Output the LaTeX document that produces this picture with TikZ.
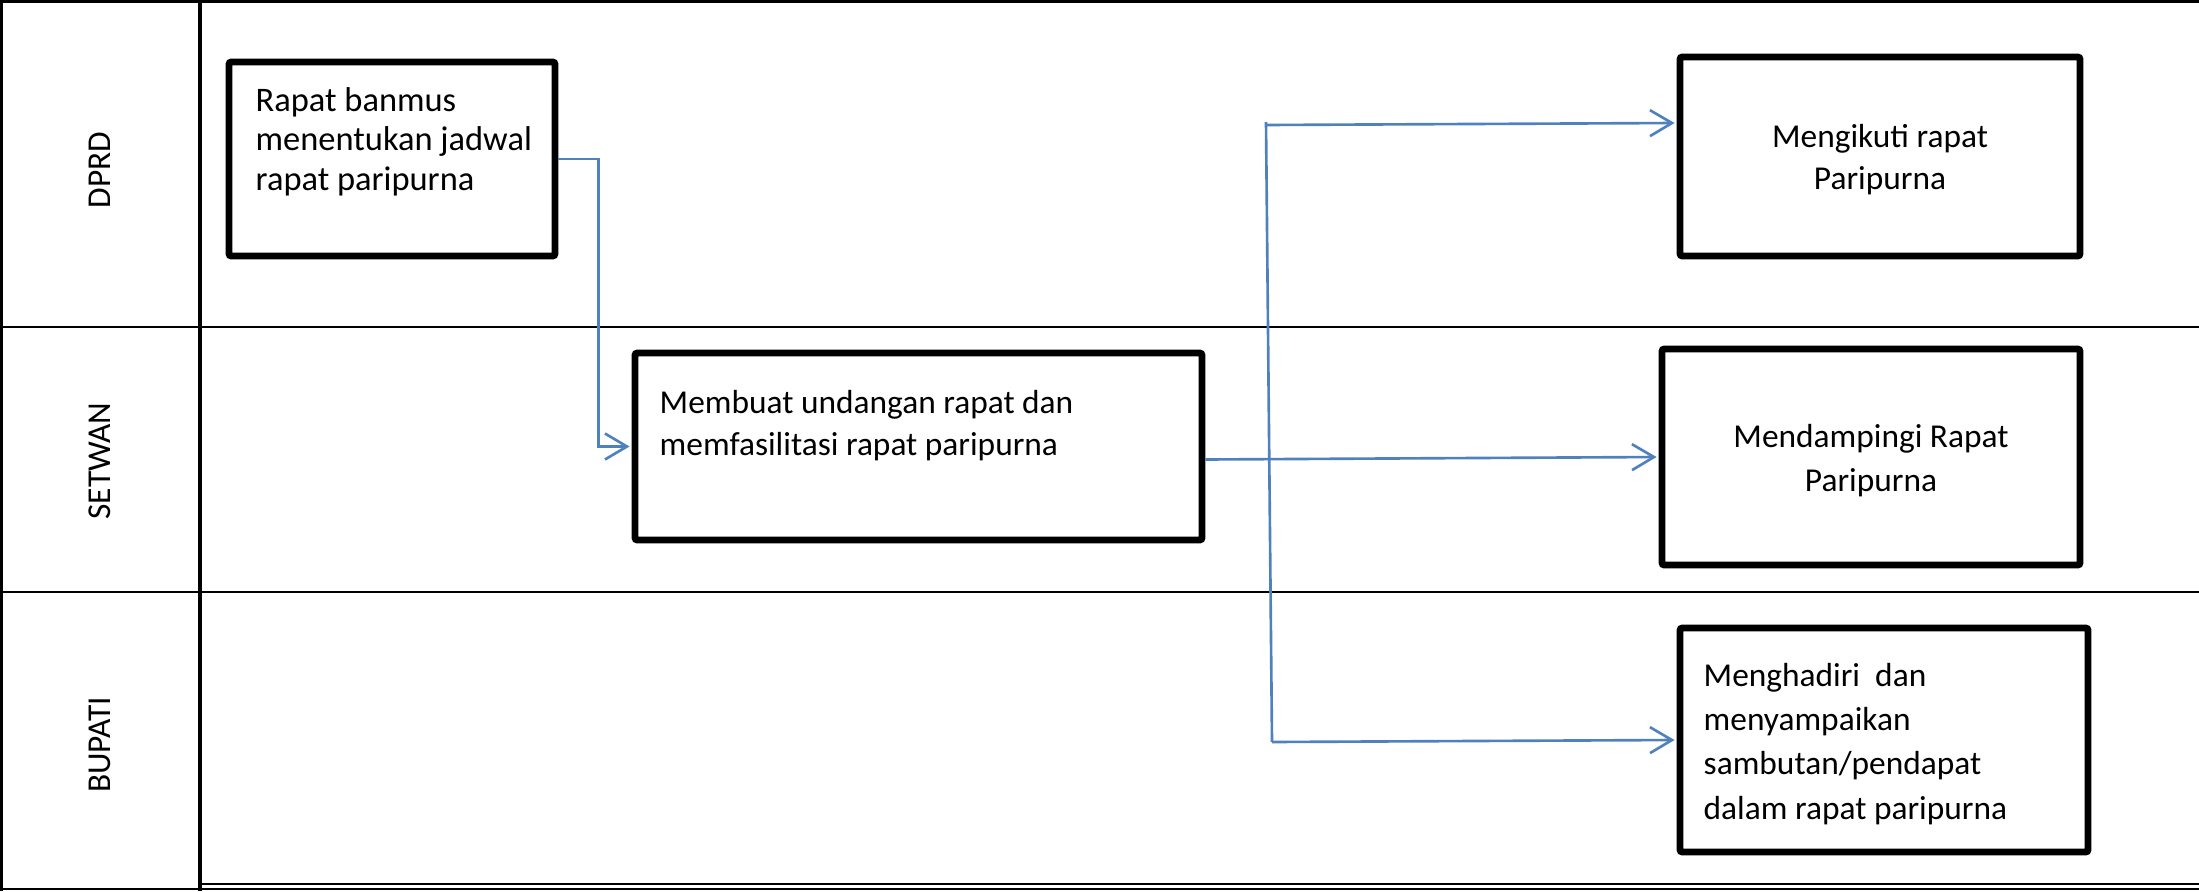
\documentclass[tikz,border=0pt]{standalone}
\usepackage{fontspec}
\setmainfont{Carlito}
\usetikzlibrary{arrows.meta}

\definecolor{flowblue}{RGB}{79,129,189}

\tikzset{
  stepbox/.style={draw=black, line width=1.9pt, rounded corners=0.6pt, inner sep=0pt},
  steptext/.style={inner sep=0pt, font=\fontsize{9.5}{#1}\selectfont},
  lanelabel/.style={rotate=90, inner sep=0pt, font=\fontsize{9.5}{11}\selectfont},
  flow/.style={draw=flowblue, line width=0.75pt, shorten >=0.6pt, -{Straight Barb[length=2.2mm,width=2.6mm]}},
}

\begin{document}
\begin{tikzpicture}
    \useasboundingbox (0,0) rectangle (21.99,8.91);

    % Draw the lanes
    \draw[line width=0.9pt] (0,8.895) -- (21.99,8.895);
    \draw[line width=0.9pt] (0.015,8.91) -- (0.015,0);
    \draw[line width=0.9pt] (2.00,8.91) -- (2.00,0);
    \draw[line width=0.5pt] (0,5.64) -- (21.99,5.64);
    \draw[line width=0.5pt] (0,2.99) -- (21.99,2.99);
    \draw[line width=0.6pt] (2.00,0.07) -- (21.99,0.07);
    \draw[line width=0.6pt] (0,0.02) -- (21.99,0.02);

    % Label the lanes
    \node[lanelabel] (dprd) at (1.00,7.21) {DPRD};
    \node[lanelabel] (setwan) at (1.00,4.30) {SETWAN};
    \node[lanelabel] (bupati) at (1.00,1.46) {BUPATI};

    % Draw the steps
    \node[stepbox, minimum width=3.26cm, minimum height=1.94cm] (banmus) at (3.92,7.32) {};
    \node[stepbox, minimum width=5.67cm, minimum height=1.87cm] (undangan) at (9.185,4.445) {};
    \node[stepbox, minimum width=4.00cm, minimum height=1.99cm] (ikuti) at (18.80,7.345) {};
    \node[stepbox, minimum width=4.18cm, minimum height=2.16cm] (dampingi) at (18.71,4.34) {};
    \node[stepbox, minimum width=4.08cm, minimum height=2.24cm] (hadiri) at (18.84,1.51) {};

    % Texts of the steps
    \node[steptext=11.2, font=\fontsize{9.8}{11.2}\selectfont, anchor=north west, align=left] (banmus text) at (2.55,8.04)
        {Rapat banmus\\menentukan jadwal\\rapat paripurna};
    \node[steptext=12.0, anchor=north west, align=left] (undangan text) at (6.59,5.015)
        {Membuat undangan rapat dan\\memfasilitasi rapat paripurna};
    \node[steptext=12.0, anchor=north, align=center] (ikuti text) at (18.80,7.675)
        {Mengikuti rapat\\Paripurna};
    \node[steptext=12.5, anchor=north, align=center] (dampingi text) at (18.71,4.675)
        {Mendampingi Rapat\\Paripurna};
    \node[steptext=12.6, anchor=north west, align=left] (hadiri text) at (17.03,2.285)
        {Menghadiri~ dan\\menyampaikan\\sambutan/pendapat\\dalam rapat paripurna};

    % Split point
    \coordinate (split top) at (12.66,7.66);
    \coordinate (split bottom) at (12.72,1.49);

    % Connect the steps
    \draw[flow] (banmus.east) -- ++(0.40,0) |- (undangan.west);
    \draw[flow] ([yshift=-0.13cm]undangan.east) -- (dampingi.west);
    \draw[draw=flowblue, line width=0.75pt] ([yshift=0.03cm]split top) -- (split bottom);
    \draw[flow] (split top) -- ([yshift=0.335cm]ikuti.west);
    \draw[flow] (split bottom) -- (hadiri.west);

\end{tikzpicture}
\end{document}
